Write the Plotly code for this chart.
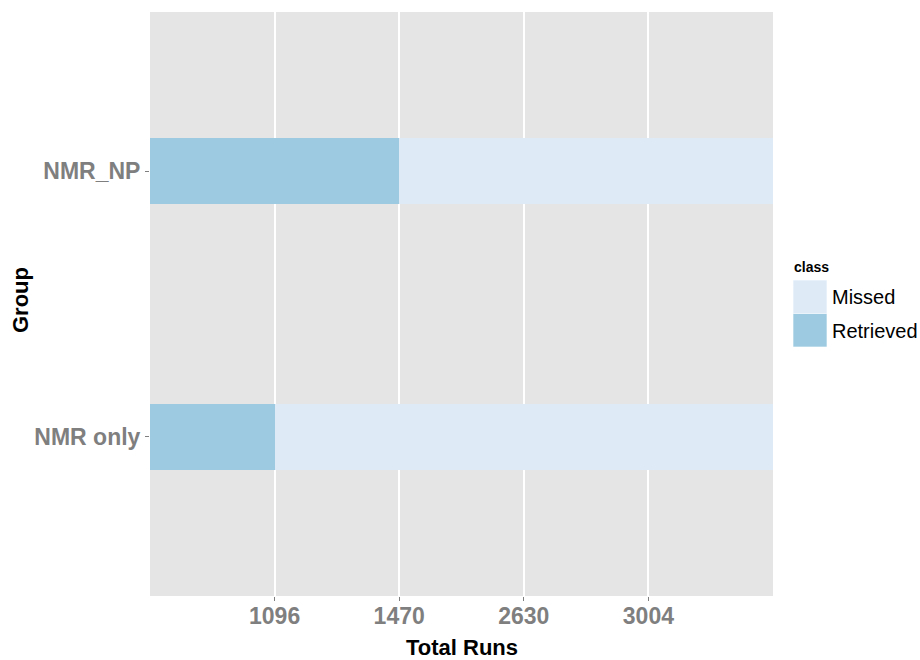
import plotly.graph_objects as go

groups = ["NMR only", "NMR_NP"]
retrieved = [0.2, 0.4]
missed = [0.8, 0.6]
tick_vals = [0.2, 0.4, 0.6, 0.8]
tick_labels = ["1096", "1470", "2630", "3004"]
classes = ["Missed", "Retrieved"]
colors = {"Missed": "#DEEBF7", "Retrieved": "#9ECAE1"}

FONT = "Liberation Sans, Arial, Helvetica, sans-serif"

fig = go.Figure()
fig.add_trace(go.Bar(y=groups, x=retrieved, orientation="h", name="Retrieved",
                     marker=dict(color=colors["Retrieved"], line=dict(width=0)),
                     width=0.25, showlegend=False, hoverinfo="skip"))
fig.add_trace(go.Bar(y=groups, x=missed, orientation="h", name="Missed",
                     marker=dict(color=colors["Missed"], line=dict(width=0)),
                     width=0.25, showlegend=False, hoverinfo="skip"))

W, H = 920, 660
L, R, T, B = 150, 773, 12, 596
pw, ph = R - L, B - T

def px(x):
    return (x - L) / pw

def py(y):
    return (B - y) / ph

# custom legend
fig.add_annotation(text="<b>class</b>", x=px(792), y=py(267), xref="paper", yref="paper",
                   xanchor="left", yanchor="middle", showarrow=False,
                   font=dict(family=FONT, size=14, color="black"))
key_tops = [280, 313.5]
for cls, top in zip(classes, key_tops):
    fig.add_shape(type="rect", xref="paper", yref="paper",
                  x0=px(793), x1=px(827), y0=py(top), y1=py(top + 33.5),
                  fillcolor=colors[cls], line=dict(width=0.6, color="white"))
    fig.add_annotation(text=cls, x=px(830), y=py(top + 17), xref="paper", yref="paper",
                       xanchor="left", yanchor="middle", showarrow=False,
                       font=dict(family=FONT, size=20, color="black"))

# axis titles
fig.add_annotation(text="<b>Total Runs</b>", x=0.5, y=py(647), xref="paper", yref="paper",
                   xanchor="center", yanchor="middle", showarrow=False,
                   font=dict(family=FONT, size=22, color="black"))
fig.add_annotation(text="<b>Group</b>", x=px(20), y=py(300), xref="paper", yref="paper",
                   xanchor="center", yanchor="middle", showarrow=False, textangle=-90,
                   font=dict(family=FONT, size=22, color="black"))

fig.update_layout(
    width=W, height=H,
    margin=dict(l=L, r=W - R, t=T, b=H - B, pad=0),
    barmode="stack",
    paper_bgcolor="white",
    plot_bgcolor="#E5E5E5",
    showlegend=False,
    font=dict(family=FONT),
    xaxis=dict(range=[0, 1], tickmode="array", tickvals=tick_vals, ticktext=tick_labels,
               showgrid=True, gridcolor="white", gridwidth=1.6, zeroline=False,
               ticks="outside", ticklen=4, tickwidth=1, tickcolor="#7F7F7F",
               ticklabelstandoff=-5,
               tickfont=dict(family=FONT, size=23, color="#7F7F7F", weight="bold"),
               showline=False, fixedrange=True),
    yaxis=dict(type="category", categoryorder="array", categoryarray=groups,
               range=[-0.6, 1.6], showgrid=False, zeroline=False,
               ticks="outside", ticklen=4, tickwidth=1, tickcolor="#7F7F7F",
               tickfont=dict(family=FONT, size=23, color="#7F7F7F", weight="bold"),
               showline=False, fixedrange=True),
)

fig.write_html("out.html", config={"displayModeBar": False})

# remove the browser's default body margin so the figure sits at the window origin
with open("out.html", "r", encoding="utf-8") as f:
    html = f.read()
html = html.replace("<body>", '<body style="margin:0;padding:0;overflow:hidden">', 1)
with open("out.html", "w", encoding="utf-8") as f:
    f.write(html)
